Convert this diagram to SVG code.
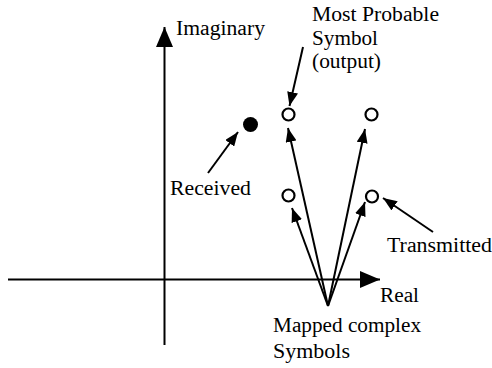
<svg xmlns="http://www.w3.org/2000/svg" width="492" height="368" viewBox="0 0 492 368">
<defs>
<marker id="ah" markerUnits="userSpaceOnUse" markerWidth="14" markerHeight="11" refX="14" refY="5.5" orient="auto"><path d="M0,0 L14,5.5 L0,11 z" fill="#000"/></marker>
<marker id="axh" markerUnits="userSpaceOnUse" markerWidth="20" markerHeight="17" refX="20" refY="8.5" orient="auto"><path d="M0,0 L20,8.5 L0,17 z" fill="#000"/></marker>
</defs>
<style>
.t{font-family:"Liberation Serif","Times New Roman",serif;font-size:20px;fill:#000}
.ln{stroke:#000;stroke-width:2;fill:none}
.sym{stroke:#000;stroke-width:2.2;fill:#fff}
</style>
<rect width="492" height="368" fill="#fff"/>
<g id="axes">
<line class="ln" x1="164.5" y1="345" x2="164.5" y2="27" marker-end="url(#axh)"/>
<line class="ln" x1="8" y1="279.5" x2="380" y2="279.5" marker-end="url(#axh)"/>
<text class="t" x="176" y="35" textLength="89" lengthAdjust="spacingAndGlyphs">Imaginary</text>
<text class="t" x="380" y="302" textLength="39" lengthAdjust="spacingAndGlyphs">Real</text>
</g>
<g id="connectors">
<line class="ln" x1="328" y1="306" x2="288" y2="128" marker-end="url(#ah)"/>
<line class="ln" x1="328" y1="306" x2="365" y2="129" marker-end="url(#ah)"/>
<line class="ln" x1="328" y1="306" x2="292" y2="208" marker-end="url(#ah)"/>
<line class="ln" x1="328" y1="306" x2="365" y2="202" marker-end="url(#ah)"/>
<line class="ln" x1="303" y1="47" x2="289.5" y2="106" marker-end="url(#ah)"/>
<line class="ln" x1="208" y1="173" x2="238" y2="132" marker-end="url(#ah)"/>
<line class="ln" x1="433" y1="232" x2="383" y2="198" marker-end="url(#ah)"/>
</g>
<g id="most-probable">
<circle class="sym" cx="288.5" cy="114.5" r="6"/>
<text class="t" x="312" y="21" textLength="127" lengthAdjust="spacingAndGlyphs">Most Probable</text>
<text class="t" x="312" y="45" textLength="66" lengthAdjust="spacingAndGlyphs">Symbol</text>
<text class="t" x="312" y="68" textLength="69" lengthAdjust="spacingAndGlyphs">(output)</text>
</g>
<g id="symbol-top-right"><circle class="sym" cx="371.5" cy="114.5" r="6"/></g>
<g id="symbol-bottom-left"><circle class="sym" cx="288.5" cy="195.5" r="6"/></g>
<g id="transmitted">
<circle class="sym" cx="372" cy="196.5" r="6"/>
<text class="t" x="387" y="252" textLength="105" lengthAdjust="spacingAndGlyphs">Transmitted</text>
</g>
<g id="received">
<circle cx="250.5" cy="124.5" r="7.5" fill="#000"/>
<text class="t" x="170" y="195" textLength="81" lengthAdjust="spacingAndGlyphs">Received</text>
</g>
<g id="mapped">
<text class="t" x="273" y="332" textLength="148" lengthAdjust="spacingAndGlyphs">Mapped complex</text>
<text class="t" x="273" y="358" textLength="77" lengthAdjust="spacingAndGlyphs">Symbols</text>
</g>
</svg>
